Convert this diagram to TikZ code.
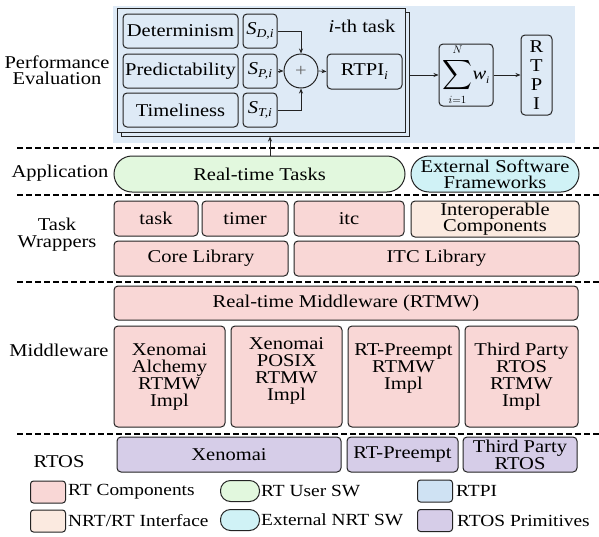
\documentclass[tikz,border=0pt]{standalone}
\usepackage{exscale}
\usepackage{fontspec}
\setmainfont{Liberation Serif}[FakeStretch=1.14]
\usetikzlibrary{arrows.meta,calc}
\definecolor{pinkF}{RGB}{249,215,214}
\definecolor{greenF}{RGB}{226,248,222}
\definecolor{blueBG}{RGB}{222,234,246}
\definecolor{blueL}{RGB}{207,226,243}
\definecolor{beigeF}{RGB}{251,234,224}
\definecolor{cyanF}{RGB}{208,242,246}
\definecolor{purpleF}{RGB}{214,205,232}
\definecolor{lineC}{RGB}{35,35,35}
\begin{document}
\begin{tikzpicture}[x=1pt,y=-1pt,
  every node/.style={font=\fontsize{18}{17}\selectfont, inner sep=0pt, text=black},
  bx/.style={draw=lineC, line width=1pt, rounded corners=4pt, align=center},
  capsule/.style={draw=lineC, line width=1pt, rounded corners=18pt, align=center},
  lcap/.style={draw=lineC, line width=1pt, rounded corners=10pt},
  frame/.style={draw=lineC, line width=1pt, fill=blueBG},
  lbl/.style={align=center},
  ltxt/.style={anchor=west, font=\fontsize{17}{17}\selectfont},
  arr/.style={draw=lineC, line width=0.7pt, -{Stealth[length=5pt,width=4pt]}},
  sep/.style={draw=black, line width=1.2pt, dash pattern=on 5.5pt off 3.5pt}
]
\useasboundingbox (0,0) rectangle (599,536);
% ---------- Performance evaluation ----------
\fill[blueBG] (113,6) rectangle (575,143);
\node[frame, minimum width=288, minimum height=124] (back) at (265,74) {};
\node[frame, minimum width=288, minimum height=124] (front) at (261,70) {};
\node[bx, fill=blueBG, minimum width=115, minimum height=34] (det) at (180.5,31) {Determinism};
\node[bx, fill=blueBG, minimum width=115, minimum height=34] (pred) at (180.5,71) {Predictability};
\node[bx, fill=blueBG, minimum width=115, minimum height=34] (time) at (180.5,110) {Timeliness};
\node[bx, fill=blueBG, minimum width=34, minimum height=34] (sd) at (260,31) {\textit{S}\raisebox{-0.45ex}{\fontsize{12}{12}\selectfont\textit{D,i}}};
\node[bx, fill=blueBG, minimum width=34, minimum height=34] (sp) at (260,71) {\textit{S}\raisebox{-0.45ex}{\fontsize{12}{12}\selectfont\textit{P,i}}};
\node[bx, fill=blueBG, minimum width=34, minimum height=34] (st) at (260,110) {\textit{S}\raisebox{-0.45ex}{\fontsize{12}{12}\selectfont\textit{T,i}}};
\node[circle, draw=lineC, line width=1pt, fill=blueBG, minimum size=34] (circ) at (301,71) {\textcolor{black!60}{+}};
\node[bx, fill=blueBG, minimum width=75, minimum height=35] (rtpii) at (364.5,71.5) {RTPI\raisebox{-0.45ex}{\fontsize{12}{12}\selectfont\textit{i}}};
\node (ith) at (362,26) {\textit{i}-th task};
\node[bx, fill=blueBG, minimum width=54, minimum height=62] (sum) at (466,75) {{\fontsize{22}{22}\selectfont$\displaystyle\sum\limits_{\scriptscriptstyle i=1}^{\scriptscriptstyle N}$}\textit{w}\raisebox{-0.5ex}{\fontsize{10}{10}\selectfont\textit{i}}};
\node[bx, fill=blueBG, minimum width=31, minimum height=80, font=\fontsize{18}{19}\selectfont] (rtpi) at (536.5,75) {R\\T\\P\\I};
\draw[arr] (sd.east) -| (circ.north);
\draw[arr] (sp.east) -- (circ.west);
\draw[arr] (st.east) -| (circ.south);
\draw[arr] (circ.east) -- (rtpii.west);
\draw[arr] (back.east |- sum.west) -- (sum.west);
\draw[arr] (sum.east) -- (rtpi.west |- sum.east);
\node[lbl, font=\fontsize{18}{16}\selectfont] (perf) at (57,70) {Performance\\Evaluation};
% ---------- separators ----------
\draw[sep] (17,148) -- (599,148);
\draw[sep] (17,195) -- (599,195);
\draw[sep] (17,282) -- (599,282);
\draw[sep] (17,434) -- (599,434);
% ---------- Application ----------
\node (app) at (60,173) {Application};
\node[capsule, fill=greenF, minimum width=291, minimum height=36] (rtt) at (259.5,174) {Real-time Tasks};
\node[capsule, fill=cyanF, minimum width=168, minimum height=36, font=\fontsize{18}{16}\selectfont] (esf) at (495,174) {External Software\\Frameworks};
\draw[arr] ([xshift=10.5pt]rtt.north) -- ([xshift=10.5pt]rtt.north |- back.south);
% ---------- Task wrappers ----------
\node[lbl] (tw) at (57,235) {Task\\Wrappers};
\node[bx, fill=pinkF, minimum width=84, minimum height=35] (task) at (156,218.5) {task};
\node[bx, fill=pinkF, minimum width=86, minimum height=35] (timer) at (245,218.5) {timer};
\node[bx, fill=pinkF, minimum width=110, minimum height=35] (itc) at (349,218.5) {itc};
\node[bx, fill=beigeF, minimum width=168, minimum height=36, font=\fontsize{18}{16}\selectfont] (interop) at (495,219) {Interoperable\\Components};
\node[bx, fill=pinkF, minimum width=174, minimum height=35] (core) at (201,258.5) {Core Library};
\node[bx, fill=pinkF, minimum width=285, minimum height=35] (itclib) at (436.5,258.5) {ITC Library};
% ---------- Middleware ----------
\node (mw) at (59,350) {Middleware};
\node[bx, fill=pinkF, minimum width=464, minimum height=34] (rtmw) at (346,303) {Real-time Middleware (RTMW)};
\node[bx, fill=pinkF, minimum width=111, minimum height=101] (impl1) at (169.5,376.5) {Xenomai\\Alchemy\\RTMW\\Impl};
\node[bx, fill=pinkF, minimum width=111, minimum height=101] (impl2) at (286.5,376.5) {};
\node[lbl] (impl2t) at ($(impl2)+(0,-6)$) {Xenomai\\POSIX\\RTMW\\Impl};
\node[bx, fill=pinkF, minimum width=111, minimum height=101] (impl3) at (403.5,376.5) {};
\node[lbl] (impl3t) at ($(impl3)+(0,-8)$) {RT-Preempt\\RTMW\\Impl};
\node[bx, fill=pinkF, minimum width=113, minimum height=101] (impl4) at (521.5,376.5) {Third Party\\RTOS\\RTMW\\Impl};
% ---------- RTOS ----------
\node (rtos) at (59,462) {RTOS};
\node[bx, fill=purpleF, minimum width=224, minimum height=35] (xen) at (229,454.5) {Xenomai};
\node[bx, fill=purpleF, minimum width=111, minimum height=35] (rtp) at (402.5,454.5) {RT-Preempt};
\node[bx, fill=purpleF, minimum width=114, minimum height=35, font=\fontsize{18}{15}\selectfont] (tp) at (520,454.5) {Third Party\\RTOS};
% ---------- Legend ----------
\node[bx, fill=pinkF, minimum width=35, minimum height=22, rounded corners=3pt] (l1) at (48,492) {};
\node[ltxt] (l1t) at (68,492) {RT Components};
\node[lcap, fill=greenF, minimum width=39, minimum height=21] (l2) at (240,491) {};
\node[ltxt] (l2t) at (261,491) {RT User SW};
\node[bx, fill=blueL, minimum width=35, minimum height=22, rounded corners=3pt] (l3) at (435,491) {};
\node[ltxt] (l3t) at (456,491) {RTPI};
\node[bx, fill=beigeF, minimum width=35, minimum height=22, rounded corners=3pt] (l4) at (48,521) {};
\node[ltxt] (l4t) at (68,521) {NRT/RT Interface};
\node[lcap, fill=cyanF, minimum width=39, minimum height=21] (l5) at (240,520) {};
\node[ltxt] (l5t) at (261,520) {External NRT SW};
\node[bx, fill=purpleF, minimum width=35, minimum height=22, rounded corners=3pt] (l6) at (435,520.5) {};
\node[ltxt] (l6t) at (457,520.5) {RTOS Primitives};
\end{tikzpicture}
\end{document}
